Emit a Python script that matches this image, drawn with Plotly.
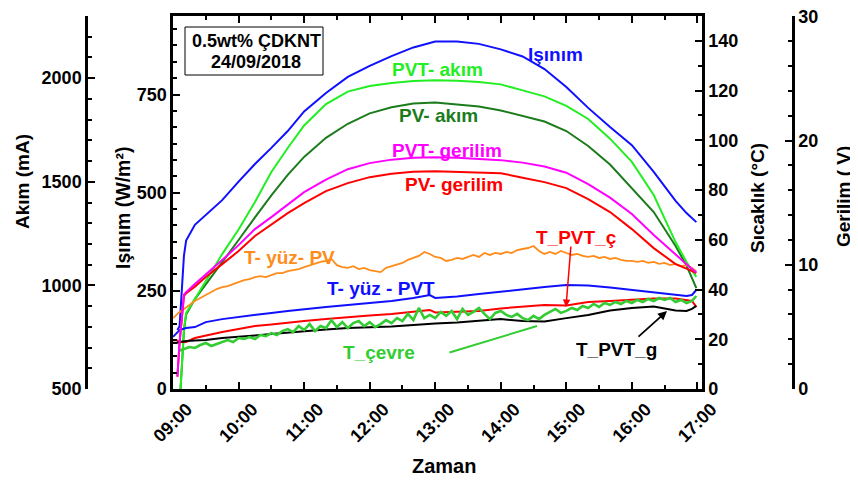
import plotly.graph_objects as go

# ---------------- data (minutes after 09:00) ----------------
elec_min = [4, 6, 10, 12, 20, 30, 45, 60, 75, 90, 105, 120, 140, 160, 180, 200,
            220, 240, 260, 280, 300, 320, 340, 360, 380, 400, 420, 440, 460, 470, 479]
isinim = [150, 160, 340, 378, 418, 443, 481, 528, 573, 614, 657, 707, 754, 795, 823, 848,
          870, 885, 885, 879, 865, 847, 815, 769, 716, 667, 621, 553, 479, 448, 425]
pvt_akim = [300, 420, 790, 867, 934, 1021, 1151, 1270, 1402, 1547, 1663, 1772, 1875, 1935, 1962, 1977,
            1986, 1990, 1988, 1982, 1970, 1941, 1912, 1866, 1803, 1708, 1596, 1436, 1209, 1113, 1041]
pv_akim = [300, 420, 780, 860, 934, 1004, 1110, 1219, 1328, 1434, 1533, 1620, 1712, 1780, 1830, 1860,
           1878, 1883, 1873, 1863, 1844, 1817, 1791, 1745, 1673, 1583, 1470, 1354, 1190, 1096, 987]
pvt_gerilim = [1.0, 3.8, 7.6, 7.8, 8.45, 9.21, 10.38, 11.58, 12.87, 13.83, 14.84, 15.84, 16.85, 17.69, 18.18, 18.46,
               18.62, 18.66, 18.62, 18.54, 18.42, 18.22, 17.90, 17.41, 16.49, 15.40, 14.08, 12.39, 10.78, 10.05, 9.37]
pv_gerilim = [1.0, 3.7, 7.5, 7.7, 8.24, 9.01, 10.05, 11.10, 12.31, 13.27, 14.16, 14.96, 15.93, 16.57, 17.05, 17.33,
              17.49, 17.53, 17.49, 17.45, 17.37, 17.01, 16.65, 16.17, 15.28, 14.24, 12.87, 11.34, 10.05, 9.69, 9.33]

temp_min = [0, 3, 6, 9, 12, 20, 30, 45, 60, 75, 90, 105, 120, 140, 160, 180, 200, 220, 230, 235,
            240, 260, 280, 300, 320, 340, 360, 380, 400, 420, 440, 460, 470, 475, 479]
t_yuz_pvt = [21.0, 22.5, 23.7, 24.1, 24.5, 24.9, 26.9, 28.1, 29.0, 30.0, 30.6, 31.4, 32.2, 33.0, 33.8, 34.6, 35.4, 36.6, 37.4, 37.8,
             36.6, 37.2, 38.2, 39.2, 40.2, 41.0, 41.8, 41.6, 40.8, 39.8, 38.8, 37.8, 37.4, 37.8, 39.8]
t_pvt_c = [19.5, 19.7, 18.9, 18.9, 18.9, 20.5, 21.5, 22.9, 24.1, 25.3, 25.9, 26.7, 27.3, 28.1, 29.0, 29.6, 30.2, 31.0, 31.4, 31.8,
           30.8, 31.0, 31.4, 32.4, 33.2, 33.8, 33.6, 35.0, 35.4, 35.8, 36.4, 36.4, 35.8, 35.4, 33.0]
t_pvt_g = [18.5, 18.5, 18.9, 19.1, 19.3, 19.5, 19.7, 20.5, 20.9, 21.5, 22.1, 22.7, 23.3, 23.9, 24.5, 24.7, 25.1, 25.7, 26.1, 26.1,
           26.3, 26.7, 27.3, 28.1, 27.3, 27.1, 28.5, 29.8, 31.6, 32.6, 33.2, 31.6, 31.4, 32.2, 33.4]

noisy_min = [0, 5, 10, 15, 20, 25, 30, 35, 40, 45, 50, 55, 60, 65, 70, 75, 80, 85, 90, 95,
             100, 105, 110, 115, 120, 125, 130, 135, 140, 145, 150, 155, 160, 165, 170, 175, 180, 185, 190, 195,
             200, 205, 210, 215, 220, 225, 230, 235, 240, 245, 250, 255, 260, 265, 270, 275, 280, 285, 290, 295,
             300, 305, 310, 315, 320, 325, 330, 335, 340, 345, 350, 355, 360, 365, 370, 375, 380, 385, 390, 395,
             400, 405, 410, 415, 420, 425, 430, 435, 440, 445, 450, 455, 460, 465, 470, 475, 479]
t_yuz_pv = [28.5, 30.6, 32.2, 33.8, 35.4, 36.6, 37.8, 39.0, 40.2, 41.0,
            41.4, 42.2, 43.0, 43.8, 44.2, 45.0, 45.4, 45.0, 45.8, 46.6,
            46.6, 47.4, 47.8, 48.2, 49.0, 49.8, 50.3, 51.1, 51.5, 52.3,
            49.8, 49.0, 48.7, 49.4, 48.2, 48.7, 47.8, 47.4, 47.0, 48.7,
            49.4, 49.8, 50.7, 51.9, 52.7, 53.5, 55.1, 54.3, 53.1, 52.7,
            51.5, 51.9, 52.7, 52.3, 53.1, 53.9, 53.1, 54.7, 53.9, 54.7,
            54.3, 55.1, 54.7, 55.9, 56.3, 56.7, 57.5, 55.5, 54.3, 55.1,
            54.3, 55.5, 54.7, 53.9, 54.3, 53.5, 53.1, 53.5, 52.7, 53.1,
            52.3, 52.7, 51.9, 51.5, 51.5, 51.1, 51.5, 50.7, 51.1, 50.3,
            50.7, 49.8, 50.3, 49.4, 49.8, 48.7, 47.4]
t_cevre = [15.3, 16.1, 16.9, 16.5, 17.7, 18.5, 17.3, 18.1, 18.9, 19.7,
           18.9, 20.5, 20.1, 20.9, 20.1, 21.7, 21.3, 22.5, 21.7, 23.3,
           24.1, 22.9, 25.3, 23.7, 26.1, 23.3, 25.3, 24.5, 27.7, 24.9,
           26.9, 24.5, 26.5, 27.3, 25.3, 26.9, 24.9, 26.1, 27.7, 26.5,
           28.5, 27.3, 30.2, 27.7, 32.6, 28.5, 29.8, 28.5, 31.0, 29.4,
           31.4, 28.1, 32.2, 29.8, 31.0, 32.6, 30.2, 28.1, 30.6, 31.4,
           29.8, 29.0, 30.2, 28.5, 27.7, 29.4, 28.1, 29.8, 31.0, 32.2,
           30.6, 31.4, 32.6, 31.8, 33.4, 32.6, 34.2, 33.0, 34.6, 33.8,
           35.0, 34.2, 35.4, 34.6, 35.8, 35.0, 36.2, 35.4, 36.6, 35.8,
           36.6, 35.0, 35.8, 34.6, 35.4, 37.4]
cevre_min = noisy_min[1:]

hour_ticks = [9, 10, 11, 12, 13, 14, 15, 16, 17]
hour_labels = ["09:00", "10:00", "11:00", "12:00", "13:00", "14:00", "15:00", "16:00", "17:00"]


def hrs(mins):
    return [9 + m / 60.0 for m in mins]


BLUE = "#1010ff"
LIME = "#22ee22"
DKGREEN = "#1c7c1c"
MAGENTA = "#ff00ff"
RED = "#ff0000"
ORANGE = "#ff8c1a"
CEVRE = "#33cc33"

fig = go.Figure()


def line(x, y, color, axis, width=2.0):
    fig.add_trace(go.Scatter(x=x, y=y, mode="lines", yaxis=axis,
                             line=dict(color=color, width=width), hoverinfo="skip"))


# temperatures (Sıcaklık axis)
line(hrs(noisy_min), t_yuz_pv, ORANGE, "y3", 1.8)
line(hrs(temp_min), t_yuz_pvt, BLUE, "y3")
line(hrs(temp_min), t_pvt_c, RED, "y3")
line(hrs(temp_min), t_pvt_g, "black", "y3")
line(hrs(cevre_min), t_cevre, CEVRE, "y3", 2.6)
# electrical
line(hrs(elec_min), pv_gerilim, RED, "y4")
line(hrs(elec_min), pvt_gerilim, MAGENTA, "y4")
line(hrs(elec_min), pv_akim, DKGREEN, "y2")
line(hrs(elec_min), pvt_akim, LIME, "y2")
line(hrs(elec_min), isinim, BLUE, "y")

FONT = "Liberation Sans, Arial, sans-serif"
TICKF = dict(family=FONT, size=18, color="black", weight="bold")
AX = dict(showline=True, linewidth=2.5, linecolor="black", showgrid=False, zeroline=False,
          automargin=False, ticklabeloverflow="allow",
          ticks="inside", ticklen=7, tickwidth=2, tickcolor="black", tickfont=TICKF)
MINOR = dict(ticks="inside", ticklen=4, tickwidth=2, tickcolor="black")

# the page body adds an 8px offset, so the figure is 8px smaller than the window
fig.update_layout(
    width=850, height=472,
    margin=dict(l=78, r=65, t=8, b=91, autoexpand=False),
    paper_bgcolor="white", plot_bgcolor="white", showlegend=False,
    xaxis=dict(AX, domain=[0.1231, 0.8713], range=[9, 17.07],
               tickvals=hour_ticks, ticktext=hour_labels, tickangle=-45,
               ticklabelshift=14, mirror="ticks",
               minor=dict(MINOR, dtick=0.5)),
    yaxis=dict(AX, range=[0, 950], tick0=0, dtick=250,
               minor=dict(MINOR, tick0=0, dtick=250 / 6)),
    yaxis2=dict(AX, overlaying="y", anchor="free", position=0, side="left",
                range=[500, 2300], tick0=500, dtick=500,
                minor=dict(MINOR, dtick=100)),
    yaxis3=dict(AX, overlaying="y", anchor="x", side="right", range=[0, 150], tick0=0, dtick=20,
                minor=dict(MINOR, dtick=10)),
    yaxis4=dict(AX, overlaying="y", anchor="free", position=1, side="right", range=[0, 30.02],
                tick0=0, dtick=10, minor=dict(MINOR, dtick=2)),
)


def px2paper(px, py):
    return (px - 86) / 707.0, (389 - py) / 373.0


def label(text, px, py, color, size=19, angle=0):
    x, y = px2paper(px, py)
    fig.add_annotation(x=x, y=y, xref="paper", yref="paper", text=text, showarrow=False,
                       textangle=angle, xanchor="center", yanchor="middle",
                       font=dict(family=FONT, size=size, color=color, weight="bold"))


# axis titles
label("Akım (mA)", 22, 182, "black", 19, -90)
label("Işınım (W/m²)", 123, 208, "black", 19.5, -90)
label("Sıcaklık (°C)", 757, 198, "black", 19, -90)
label("Gerilim ( V)", 843, 197, "black", 19, -90)
label("Zaman", 444, 466, "black", 20)

# series labels
label("Işınım", 555, 55, BLUE)
label("PVT- akım", 437, 70, LIME)
label("PV- akım", 438, 116, DKGREEN)
label("PVT- gerilim", 447, 150, MAGENTA)
label("PV- gerilim", 454, 184, RED)
label("T- yüz- PV", 289, 257, ORANGE)
label("T- yüz - PVT", 381, 288, BLUE)
label("T_çevre", 379, 352, CEVRE)
label("T_PVT_ç", 576, 238, RED)
label("T_PVT_g", 616, 349, "black")

# info box: frame + two text lines
x0, y0 = px2paper(185, 75)
x1, y1 = px2paper(323, 27)
fig.add_shape(type="rect", xref="paper", yref="paper", x0=x0, y0=y0, x1=x1, y1=y1,
              line=dict(color="black", width=1), fillcolor="white", layer="above")
label("0.5wt% ÇDKNT", 256, 41, "black", 18)
label("24/09/2018", 256, 62, "black", 18)


def arrow(hx, hy, tx, ty, color, width, head):
    x, y = px2paper(hx, hy)
    fig.add_annotation(x=x, y=y, xref="paper", yref="paper", text="", showarrow=True,
                       ax=tx - hx, ay=ty - hy, arrowcolor=color, arrowwidth=width,
                       arrowhead=head, arrowsize=1)


arrow(537, 326, 448, 353, CEVRE, 2, 0)
arrow(566, 307, 571, 245, RED, 1.5, 2)
arrow(667, 311, 637, 338, "black", 1.8, 2)

fig.write_html("out.html")
